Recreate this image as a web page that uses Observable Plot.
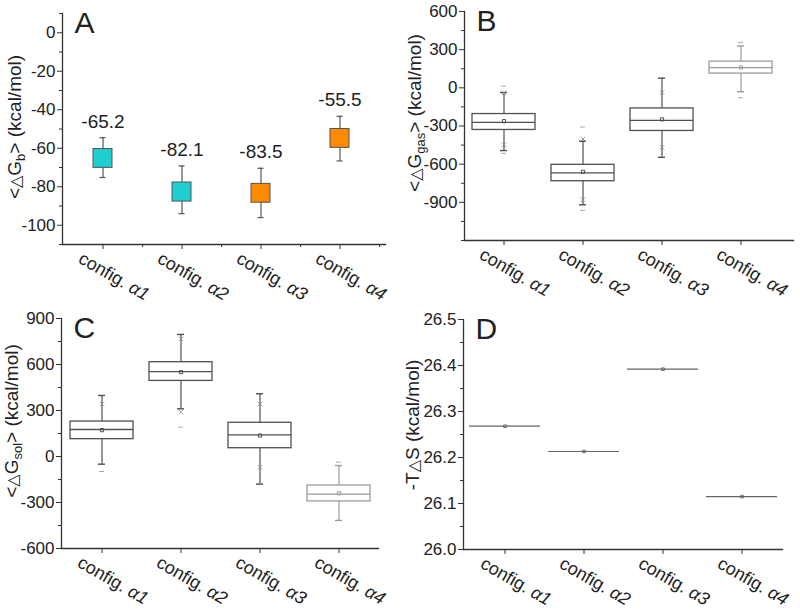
<!DOCTYPE html>
<html><head><meta charset="utf-8">
<script src="https://cdn.jsdelivr.net/npm/d3@7"></script>
<script src="https://cdn.jsdelivr.net/npm/@observablehq/plot@0.6"></script>
<style>
body{margin:0;background:#fff;}
#wrap{position:relative;width:800px;height:610px;font-family:"Liberation Sans",Arial,sans-serif;}
.panel{position:absolute;}
</style></head><body><div id="wrap"></div>
<script>
// ---------- data ----------
const categories = ["config. α1", "config. α2", "config. α3", "config. α4"];

// Panel A: <ΔGb>
const gbMean        = [-65.2, -82.1, -83.5, -55.5];
const gbBoxLow      = [-70.2, -87.7, -88.3, -59.8];
const gbBoxHigh     = [-60.4, -77.8, -78.5, -50.0];
const gbWhiskerLow  = [-75.2, -94.0, -96.0, -66.6];
const gbWhiskerHigh = [-54.5, -69.2, -70.4, -43.4];

// Panel B: <ΔGgas>
const gasMin         = [-515, -963, null, -78];
const gasP1          = [-449, -880, -468, null];
const gasWhiskerLow  = [-493, -919, -546, -31];
const gasQ1          = [-331, -734, -339, 112];
const gasMedian      = [-272, -668, -256, 159];
const gasMean        = [-262, -660, -248, 160];
const gasQ3          = [-206, -605, -162, 206];
const gasWhiskerHigh = [-37, -420, 76, 329];
const gasP99         = [-40, -402, -37, null];
const gasMax         = [13, -308, null, 355];

// Panel C: <ΔGsol>
const solMin         = [-98, 191, null, null];
const solP1          = [null, 289, -70, null];
const solWhiskerLow  = [-50, 311, -180, -417];
const solQ1          = [113, 493, 54, -293];
const solMedian      = [176, 554, 141, -246];
const solMean        = [172, 550, 137, -240];
const solQ3          = [228, 615, 220, -189];
const solWhiskerHigh = [398, 796, 409, -59];
const solP99         = [343, 767, 343, null];
const solMax         = [null, null, null, -37];

// Panel D: -TΔS
const tdsValue = [26.268, 26.213, 26.392, 26.115];

// tick values
const ticksA = [-100, -80, -60, -40, -20, 0];
const minorA = [-110, -90, -70, -50, -30, -10, 10];
const ticksB = [-900, -600, -300, 0, 300, 600];
const minorB = [-1200, -1050, -750, -450, -150, 150, 450];
const ticksC = [-600, -300, 0, 300, 600, 900];
const minorC = [-450, -150, 150, 450, 750];
const ticksD = [26.0, 26.1, 26.2, 26.3, 26.4, 26.5];
const minorD = [26.05, 26.15, 26.25, 26.35, 26.45];

// ---------- styles ----------
const FONT = '"Liberation Sans", Arial, sans-serif';
const INK = "#222";
const barFill = ["#1fcfcf", "#1fcfcf", "#ff8a00", "#ff8a00"];
const boxStroke = ["#505050", "#505050", "#505050", "#9c9c9c"];

function boxRows(s) {
  return categories.map((c, i) => ({
    cat: c, min: s.min[i], p1: s.p1[i], wlo: s.wlo[i], q1: s.q1[i], med: s.med[i],
    mean: s.mean[i], q3: s.q3[i], whi: s.whi[i], p99: s.p99[i], max: s.max[i], color: boxStroke[i]
  }));
}

function commonMarks(yTicks, yMinor, fmt, letter, opts = {}) {
  return [
    Plot.axisY(yTicks, {tickSize: 5, tickPadding: 2, fontSize: 17, tickFormat: fmt, label: null, stroke: "#333"}),
    Plot.axisY(yMinor, {tickSize: 3, tickFormat: () => null, label: null, stroke: "#333"}),
    Plot.axisX({tickSize: 5, tickFormat: () => null, label: null, stroke: "#333"}),
    opts.minorX ? Plot.axisX({tickSize: 3, dx: opts.minorX, tickFormat: () => null, label: null, stroke: "#333"}) : null,
    Plot.frame({anchor: "left", stroke: "#333", strokeWidth: 1.3}),
    Plot.frame({anchor: "bottom", stroke: "#333", strokeWidth: 1.3}),
    Plot.text(categories, {x: d => d, text: d => d, frameAnchor: "bottom", rotate: 30, dx: 11, dy: 32,
      textAnchor: "middle", lineAnchor: "middle", fontSize: 18, fill: INK}),
    Plot.text([letter], {text: d => d, frameAnchor: "top-left", dx: 12, dy: -2, lineAnchor: "top", fontSize: 30, fill: INK})
  ];
}

function boxMarks(rows) {
  const boxInset = 8, capInset = 36, dashInset = 37;
  return [
    Plot.ruleX(rows, {x: "cat", y1: "wlo", y2: "whi", stroke: "color", strokeWidth: 1.2}),
    Plot.tickY(rows, {x: "cat", y: "wlo", stroke: "color", strokeWidth: 1.4, insetLeft: capInset, insetRight: capInset}),
    Plot.tickY(rows, {x: "cat", y: "whi", stroke: "color", strokeWidth: 1.4, insetLeft: capInset, insetRight: capInset}),
    Plot.barY(rows, {x: "cat", y1: "q1", y2: "q3", fill: "white", stroke: "color", strokeWidth: 1.3, insetLeft: boxInset, insetRight: boxInset}),
    Plot.tickY(rows, {x: "cat", y: "med", stroke: "color", strokeWidth: 1.3, insetLeft: boxInset, insetRight: boxInset}),
    Plot.dot(rows, {x: "cat", y: "mean", symbol: "square", r: 1.8, stroke: "color", fill: "none", strokeWidth: 1}),
    Plot.dot(rows.filter(d => d.p1 != null), {x: "cat", y: "p1", symbol: "times", r: 2.2, stroke: "#888", strokeWidth: 0.8}),
    Plot.dot(rows.filter(d => d.p99 != null), {x: "cat", y: "p99", symbol: "times", r: 2.2, stroke: "#888", strokeWidth: 0.8}),
    Plot.tickY(rows.filter(d => d.min != null), {x: "cat", y: "min", stroke: "#aaa", strokeWidth: 1, insetLeft: dashInset, insetRight: dashInset}),
    Plot.tickY(rows.filter(d => d.max != null), {x: "cat", y: "max", stroke: "#aaa", strokeWidth: 1, insetLeft: dashInset, insetRight: dashInset})
  ];
}

// y-axis title with subscripts (built as SVG text inside the plot)
function addTitle(svg, x, y, parts) {
  const t = d3.select(svg).append("text")
    .attr("transform", `translate(${x},${y}) rotate(-90)`)
    .attr("text-anchor", "middle").attr("font-size", 19).attr("fill", INK)
    .attr("font-family", FONT);
  let shift = 0;
  for (const p of parts) {
    const ts = t.append("tspan").text(p.t);
    const target = p.sub ? 4 : 0;
    if (target !== shift) { ts.attr("dy", target - shift); shift = target; }
    if (p.sub) ts.attr("font-size", 13);
    if (p.tri) ts.attr("font-size", 16).attr("font-family", "DejaVu Sans");
  }
}

// italic α in the category labels
function italicAlpha(svg) {
  d3.select(svg).selectAll("text").each(function () {
    const el = d3.select(this);
    if (this.querySelector("tspan")) return;
    const s = this.textContent;
    const m = /^config\. (α\d)$/.exec(s);
    if (!m) return;
    el.text(null);
    el.append("tspan").text("config. ");
    el.append("tspan").attr("font-style", "italic").text(m[1]);
  });
}

const intFmt = d => String(d);
const baseStyle = {fontFamily: FONT, fontSize: "17px", color: INK, background: "transparent", overflow: "visible"};
const wrap = document.getElementById("wrap");
function place(el, left, top) {
  italicAlpha(el);
  el.classList.add("panel");
  el.style.left = left + "px";
  el.style.top = top + "px";
  wrap.appendChild(el);
}

// ---------- Panel A ----------
const rowsA = categories.map((c, i) => ({cat: c, mean: gbMean[i], lo: gbBoxLow[i], hi: gbBoxHigh[i],
  wlo: gbWhiskerLow[i], whi: gbWhiskerHigh[i], fill: barFill[i]}));
const plotA = Plot.plot({
  width: 400, height: 305, marginLeft: 62, marginRight: 15, marginTop: 13, marginBottom: 61,
  style: baseStyle,
  x: {type: "band", domain: categories, range: [62, 379], padding: 0},
  y: {domain: [-110, 10]},
  marks: [
    ...commonMarks(ticksA, minorA, intFmt, "A", {minorX: 39.6}),
    Plot.ruleX(rowsA, {x: "cat", y1: "wlo", y2: "whi", stroke: "#555", strokeWidth: 1.2}),
    Plot.tickY(rowsA, {x: "cat", y: "wlo", stroke: "#555", strokeWidth: 1.2, insetLeft: 36.5, insetRight: 36.5}),
    Plot.tickY(rowsA, {x: "cat", y: "whi", stroke: "#555", strokeWidth: 1.2, insetLeft: 36.5, insetRight: 36.5}),
    Plot.barY(rowsA, {x: "cat", y1: "lo", y2: "hi", fill: "fill", stroke: "#555", strokeWidth: 1, insetLeft: 30, insetRight: 30}),
    Plot.text(rowsA, {x: "cat", y: "whi", text: d => d.mean.toFixed(1), dy: -10, lineAnchor: "bottom", fontSize: 19, fill: INK})
  ]
});
addTitle(plotA, 21, 127, [{t: "<"}, {t: "△", tri: true}, {t: "G"}, {t: "b", sub: true}, {t: "> (kcal/mol)"}]);
place(plotA, 0, 0);

// ---------- Panel B ----------
const rowsB = boxRows({min: gasMin, p1: gasP1, wlo: gasWhiskerLow, q1: gasQ1, med: gasMedian, mean: gasMean,
  q3: gasQ3, whi: gasWhiskerHigh, p99: gasP99, max: gasMax});
const plotB = Plot.plot({
  width: 400, height: 305, marginLeft: 64, marginRight: 7, marginTop: 11, marginBottom: 65,
  style: baseStyle,
  x: {type: "band", domain: categories, range: [64, 380], padding: 0},
  y: {domain: [-1200, 600]},
  marks: [...commonMarks(ticksB, minorB, intFmt, "B"), ...boxMarks(rowsB)]
});
addTitle(plotB, 21, 113, [{t: "<"}, {t: "△", tri: true}, {t: "G"}, {t: "gas", sub: true}, {t: "> (kcal/mol)"}]);
place(plotB, 400, 0);

// ---------- Panel C ----------
const rowsC = boxRows({min: solMin, p1: solP1, wlo: solWhiskerLow, q1: solQ1, med: solMedian, mean: solMean,
  q3: solQ3, whi: solWhiskerHigh, p99: solP99, max: solMax});
const plotC = Plot.plot({
  width: 400, height: 305, marginLeft: 61, marginRight: 22, marginTop: 13, marginBottom: 62,
  style: baseStyle,
  x: {type: "band", domain: categories, range: [61, 378], padding: 0},
  y: {domain: [-600, 900]},
  marks: [...commonMarks(ticksC, minorC, intFmt, "C"), ...boxMarks(rowsC)]
});
addTitle(plotC, 18, 116, [{t: "<"}, {t: "△", tri: true}, {t: "G"}, {t: "sol", sub: true}, {t: "> (kcal/mol)"}]);
place(plotC, 0, 305);

// ---------- Panel D ----------
const rowsD = categories.map((c, i) => ({cat: c, v: tdsValue[i]}));
const plotD = Plot.plot({
  width: 400, height: 305, marginLeft: 63, marginRight: 18, marginTop: 14, marginBottom: 61,
  style: baseStyle,
  x: {type: "band", domain: categories, range: [63, 382], padding: 0},
  y: {domain: [26.0, 26.5]},
  marks: [
    ...commonMarks(ticksD, minorD, d => d.toFixed(1), "D"),
    Plot.tickY(rowsD, {x: "cat", y: "v", stroke: "#666", strokeWidth: 1.2, insetLeft: 4, insetRight: 4}),
    Plot.dot(rowsD, {x: "cat", y: "v", symbol: "square", r: 1.5, stroke: "#555", fill: "none", strokeWidth: 0.8})
  ]
});
addTitle(plotD, 19, 120, [{t: "-T"}, {t: "△", tri: true}, {t: "S (kcal/mol)"}]);
place(plotD, 400, 305);
</script></body></html>
